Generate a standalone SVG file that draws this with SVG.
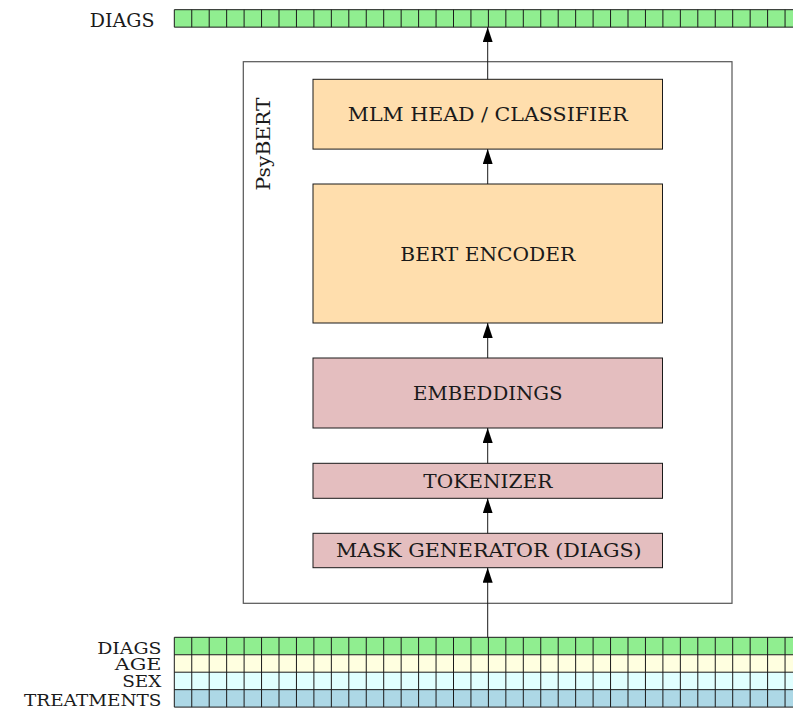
<svg xmlns="http://www.w3.org/2000/svg" width="793" height="708" viewBox="0 0 793 708">
<style>
text{font-family:"DejaVu Serif","Liberation Serif",serif;font-size:18.5px;fill:#1a1a1a}
.c{text-anchor:middle}
.e{text-anchor:end}
.lab{font-size:17.5px}
.orange{fill:#FFDEAD;stroke:#1a1a1a;stroke-width:1}
.pink{fill:#E4BEBF;stroke:#1a1a1a;stroke-width:1}
.outer{fill:none;stroke:#555;stroke-width:1.2}
.grid{fill:none;stroke:#1a1a1a;stroke-width:1}
.conn{stroke:#1a1a1a;stroke-width:1;fill:none;marker-end:url(#ah)}
</style>
<defs>
<marker id="ah" markerUnits="userSpaceOnUse" markerWidth="15" markerHeight="10" refX="15" refY="5" orient="auto">
<path d="M0,0 L15,5 L0,10 z" fill="#000"/>
</marker>
</defs>
<rect width="793" height="708" fill="#fff"/>

<g id="out-diags">
<text class="e" x="154.5" y="26.7" textLength="64.7" lengthAdjust="spacingAndGlyphs">DIAGS</text>
<rect x="174.3" y="9.7" width="630" height="17.45" fill="#90EE90"/>
<path class="grid" d="M174.3 9.7H805M174.3 27.15H805M174.3 9.7V27.15M191.75 9.7V27.15M209.2 9.7V27.15M226.65 9.7V27.15M244.1 9.7V27.15M261.55 9.7V27.15M279 9.7V27.15M296.45 9.7V27.15M313.9 9.7V27.15M331.35 9.7V27.15M348.8 9.7V27.15M366.25 9.7V27.15M383.7 9.7V27.15M401.15 9.7V27.15M418.6 9.7V27.15M436.05 9.7V27.15M453.5 9.7V27.15M470.95 9.7V27.15M488.4 9.7V27.15M505.85 9.7V27.15M523.3 9.7V27.15M540.75 9.7V27.15M558.2 9.7V27.15M575.65 9.7V27.15M593.1 9.7V27.15M610.55 9.7V27.15M628 9.7V27.15M645.45 9.7V27.15M662.9 9.7V27.15M680.35 9.7V27.15M697.8 9.7V27.15M715.25 9.7V27.15M732.7 9.7V27.15M750.15 9.7V27.15M767.6 9.7V27.15M785.05 9.7V27.15"/>
</g>

<g id="psybert">
<rect class="outer" x="243.3" y="61.7" width="488.7" height="541.6"/>
<text class="c" transform="translate(270,144) rotate(-90)" x="0" y="0" textLength="93" lengthAdjust="spacingAndGlyphs">PsyBERT</text>
</g>

<g id="mlm-head">
<rect class="orange" x="313" y="79.3" width="349.5" height="69.8"/>
<text class="c" x="487.8" y="121" textLength="280" lengthAdjust="spacingAndGlyphs">MLM HEAD / CLASSIFIER</text>
</g>
<g id="bert-encoder">
<rect class="orange" x="313" y="184" width="349.5" height="139"/>
<text class="c" x="487.8" y="260.5" textLength="175" lengthAdjust="spacingAndGlyphs">BERT ENCODER</text>
</g>
<g id="embeddings">
<rect class="pink" x="313" y="358" width="349.5" height="70"/>
<text class="c" x="487.8" y="400" textLength="149.6" lengthAdjust="spacingAndGlyphs">EMBEDDINGS</text>
</g>
<g id="tokenizer">
<rect class="pink" x="313" y="463.3" width="349.5" height="35"/>
<text class="c" x="487.8" y="487.5" textLength="129" lengthAdjust="spacingAndGlyphs">TOKENIZER</text>
</g>
<g id="mask-generator">
<rect class="pink" x="313" y="533.3" width="349.5" height="34.4"/>
<text class="c" x="488.8" y="556.8" textLength="305.7" lengthAdjust="spacingAndGlyphs">MASK GENERATOR (DIAGS)</text>
</g>

<g id="inputs">
<g id="in-diags">
<text class="e lab" x="161.5" y="653.5" textLength="64.3" lengthAdjust="spacingAndGlyphs">DIAGS</text>
<rect x="174.3" y="637.3" width="630" height="17.45" fill="#90EE90"/>
</g>
<g id="in-age">
<text class="e lab" x="161.5" y="670" textLength="46.7" lengthAdjust="spacingAndGlyphs">AGE</text>
<rect x="174.3" y="654.75" width="630" height="17.45" fill="#FFFFE0"/>
</g>
<g id="in-sex">
<text class="e lab" x="161.5" y="687" textLength="39.3" lengthAdjust="spacingAndGlyphs">SEX</text>
<rect x="174.3" y="672.2" width="630" height="17.45" fill="#E0FFFF"/>
</g>
<g id="in-treatments">
<text class="e lab" x="161.5" y="706" textLength="137.5" lengthAdjust="spacingAndGlyphs">TREATMENTS</text>
<rect x="174.3" y="689.65" width="630" height="17.45" fill="#ADD8E6"/>
</g>
<path class="grid" d="M174.3 637.3H805M174.3 654.75H805M174.3 672.2H805M174.3 689.65H805M174.3 707.1H805M174.3 637.3V707.1M191.75 637.3V707.1M209.2 637.3V707.1M226.65 637.3V707.1M244.1 637.3V707.1M261.55 637.3V707.1M279 637.3V707.1M296.45 637.3V707.1M313.9 637.3V707.1M331.35 637.3V707.1M348.8 637.3V707.1M366.25 637.3V707.1M383.7 637.3V707.1M401.15 637.3V707.1M418.6 637.3V707.1M436.05 637.3V707.1M453.5 637.3V707.1M470.95 637.3V707.1M488.4 637.3V707.1M505.85 637.3V707.1M523.3 637.3V707.1M540.75 637.3V707.1M558.2 637.3V707.1M575.65 637.3V707.1M593.1 637.3V707.1M610.55 637.3V707.1M628 637.3V707.1M645.45 637.3V707.1M662.9 637.3V707.1M680.35 637.3V707.1M697.8 637.3V707.1M715.25 637.3V707.1M732.7 637.3V707.1M750.15 637.3V707.1M767.6 637.3V707.1M785.05 637.3V707.1"/>
</g>

<g id="connectors">
<path class="conn" d="M487.7 637.3V567.7"/>
<path class="conn" d="M487.7 533.3V498.3"/>
<path class="conn" d="M487.7 463.3V428"/>
<path class="conn" d="M487.7 358V323"/>
<path class="conn" d="M487.7 184V149.1"/>
<path class="conn" d="M487.7 79.3V27.15"/>
</g>
</svg>
